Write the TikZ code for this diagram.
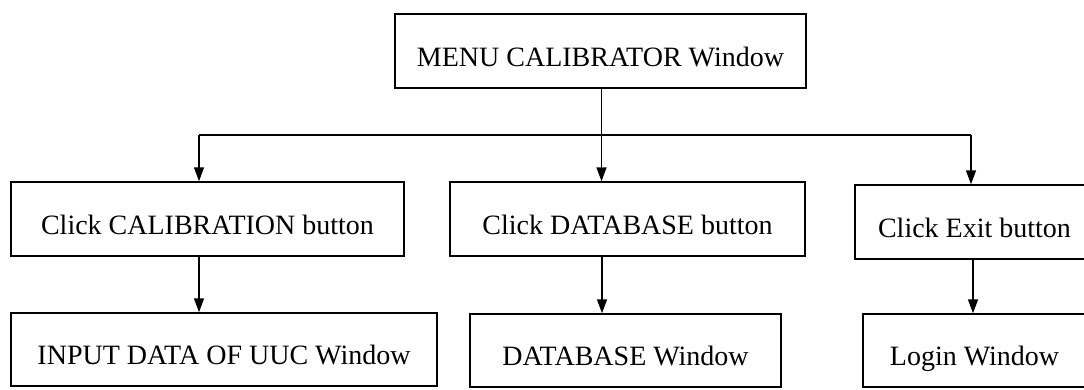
\documentclass[tikz,border=0pt]{standalone}
\usepackage{fontspec}
\setmainfont{Liberation Serif}
\usetikzlibrary{arrows.meta}
\begin{document}
\begin{tikzpicture}[x=1pt,y=-1pt,
  box/.style={draw, line width=1.5pt, inner sep=0pt, text height=32pt, text depth=2pt, font=\fontsize{28}{32}\selectfont},
  arr/.style={line width=1.5pt, -{Triangle[width=10pt,length=14pt]}},
  ln/.style={line width=1.5pt}]
\useasboundingbox (0,0) rectangle (1084,389);
\clip (0,0) rectangle (1084,389);
\node[box, minimum width=411pt, minimum height=74pt] (menu) at (600.5,51) {MENU CALIBRATOR Window};
\node[box, minimum width=393pt, minimum height=74pt] (cal) at (207.5,219) {Click CALIBRATION button};
\node[box, minimum width=355pt, minimum height=74pt] (db) at (627.5,219) {Click DATABASE button};
\node[box, minimum width=239pt, minimum height=74pt] (ex) at (974.5,222) {Click Exit button};
\node[box, minimum width=426pt, minimum height=73pt] (inp) at (224,349.5) {INPUT DATA OF UUC Window};
\node[box, minimum width=311pt, minimum height=73pt] (dbw) at (625.5,350.5) {DATABASE Window};
\node[box, minimum width=223pt, minimum height=73pt] (login) at (974.5,350.5) {Login Window};
\coordinate (jl) at (199,135);
\coordinate (jm) at (601.5,135);
\coordinate (jr) at (971,135);
\draw[ln] (jl) -- (jr);
\draw[arr] (menu.south -| jm) -- (db.north -| jm);
\draw[arr] (jl) -- (jl |- cal.north);
\draw[arr] (jr) -- (jr |- ex.north);
\coordinate (cl) at (199,300);
\coordinate (cm) at (602,300);
\coordinate (cr) at (973,300);
\draw[arr] (cal.south -| cl) -- (inp.north -| cl);
\draw[arr] (db.south -| cm) -- (dbw.north -| cm);
\draw[arr] (ex.south -| cr) -- (login.north -| cr);
\end{tikzpicture}
\end{document}
